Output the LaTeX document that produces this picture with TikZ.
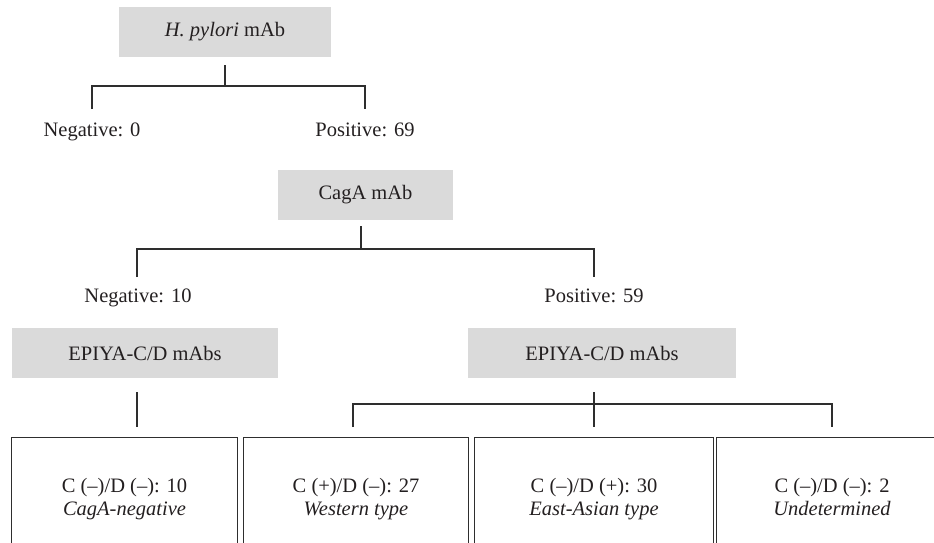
\documentclass[tikz,border=0pt]{standalone}
\usepackage{fontspec}
\setmainfont{Liberation Serif}
\definecolor{linec}{HTML}{2E2E2E}
\definecolor{boxfill}{HTML}{DADADA}
\definecolor{txt}{HTML}{231F20}
\begin{document}
\begin{tikzpicture}[x=1pt,y=-1pt,
  conn/.style={draw=linec,line width=1.2pt},
  fnt/.style={font=\fontsize{20.5}{23}\selectfont,text=txt},
  gbox/.style={fnt,fill=boxfill,draw=none,minimum height=50pt,inner sep=0pt},
  lbl/.style={fnt,anchor=base,inner sep=0pt},
  rbox/.style={fnt,draw=none,minimum height=122pt,inner sep=0pt,align=center}
]
\useasboundingbox (0,0) rectangle (934,543);
\clip (0,0) rectangle (934,543);

% nodes
\node[gbox,minimum width=212pt] (hp) at (225,32) {\textit{H. pylori} mAb};
\node[lbl] (neg0) at (92,136) {Negative: 0};
\node[lbl] (pos69) at (365,136) {Positive: 69};
\node[gbox,minimum width=175pt] (caga) at (365.5,195) {CagA mAb};
\node[lbl] (neg10) at (138,302) {Negative: 10};
\node[lbl] (pos59) at (594,302) {Positive: 59};
\node[gbox,minimum width=266pt] (epl) at (145,353) {EPIYA-C/D mAbs};
\node[gbox,minimum width=268pt] (epr) at (602,353) {EPIYA-C/D mAbs};
\node[rbox,minimum width=225pt] (b1) at (124.5,499) {\strut C (–)/D (–): 10\\\strut\textit{CagA-negative}};
\node[rbox,minimum width=224pt] (b2) at (356,499) {\strut C (+)/D (–): 27\\\strut\textit{Western type}};
\node[rbox,minimum width=238pt] (b3) at (594,499) {\strut C (–)/D (+): 30\\\strut\textit{East-Asian type}};
\node[rbox,minimum width=230pt] (b4) at (832,499) {\strut C (–)/D (–): 2\\\strut\textit{Undetermined}};

% box borders (open at the bottom)
\draw[conn] (b1.south west) |- (b1.north east) -- (b1.south east);
\draw[conn] (b2.south west) |- (b2.north east) -- (b2.south east);
\draw[conn] (b3.south west) |- (b3.north east) -- (b3.south east);
\draw[conn] (b4.south west) |- (b4.north east) -- (b4.south east);

% junction coordinates
\coordinate (hpj) at (225,86);
\coordinate (n0t) at (92,109);
\coordinate (p69t) at (365,109);
\coordinate (cagj) at (361,249);
\coordinate (n10t) at (137,277);
\coordinate (p59t) at (594,277);
\coordinate (eplj) at (137,427);
\coordinate (eprj) at (594,404);
\coordinate (t2) at (353,427);
\coordinate (t3) at (594,427);
\coordinate (t4) at (832,427);

% connectors
\draw[conn] (hp.south) ++(0,8) -- (hpj);
\draw[conn] (n0t) |- (hpj) -| (p69t);
\draw[conn] (caga.south -| cagj) ++(0,6) -- (cagj);
\draw[conn] (n10t) |- (cagj) -| (p59t);
\draw[conn] (epl.south -| eplj) ++(0,14) -- (eplj);
\draw[conn] (epr.south -| t3) ++(0,14) -- (t3);
\draw[conn] (t2) |- (eprj) -| (t4);
\end{tikzpicture}
\end{document}
